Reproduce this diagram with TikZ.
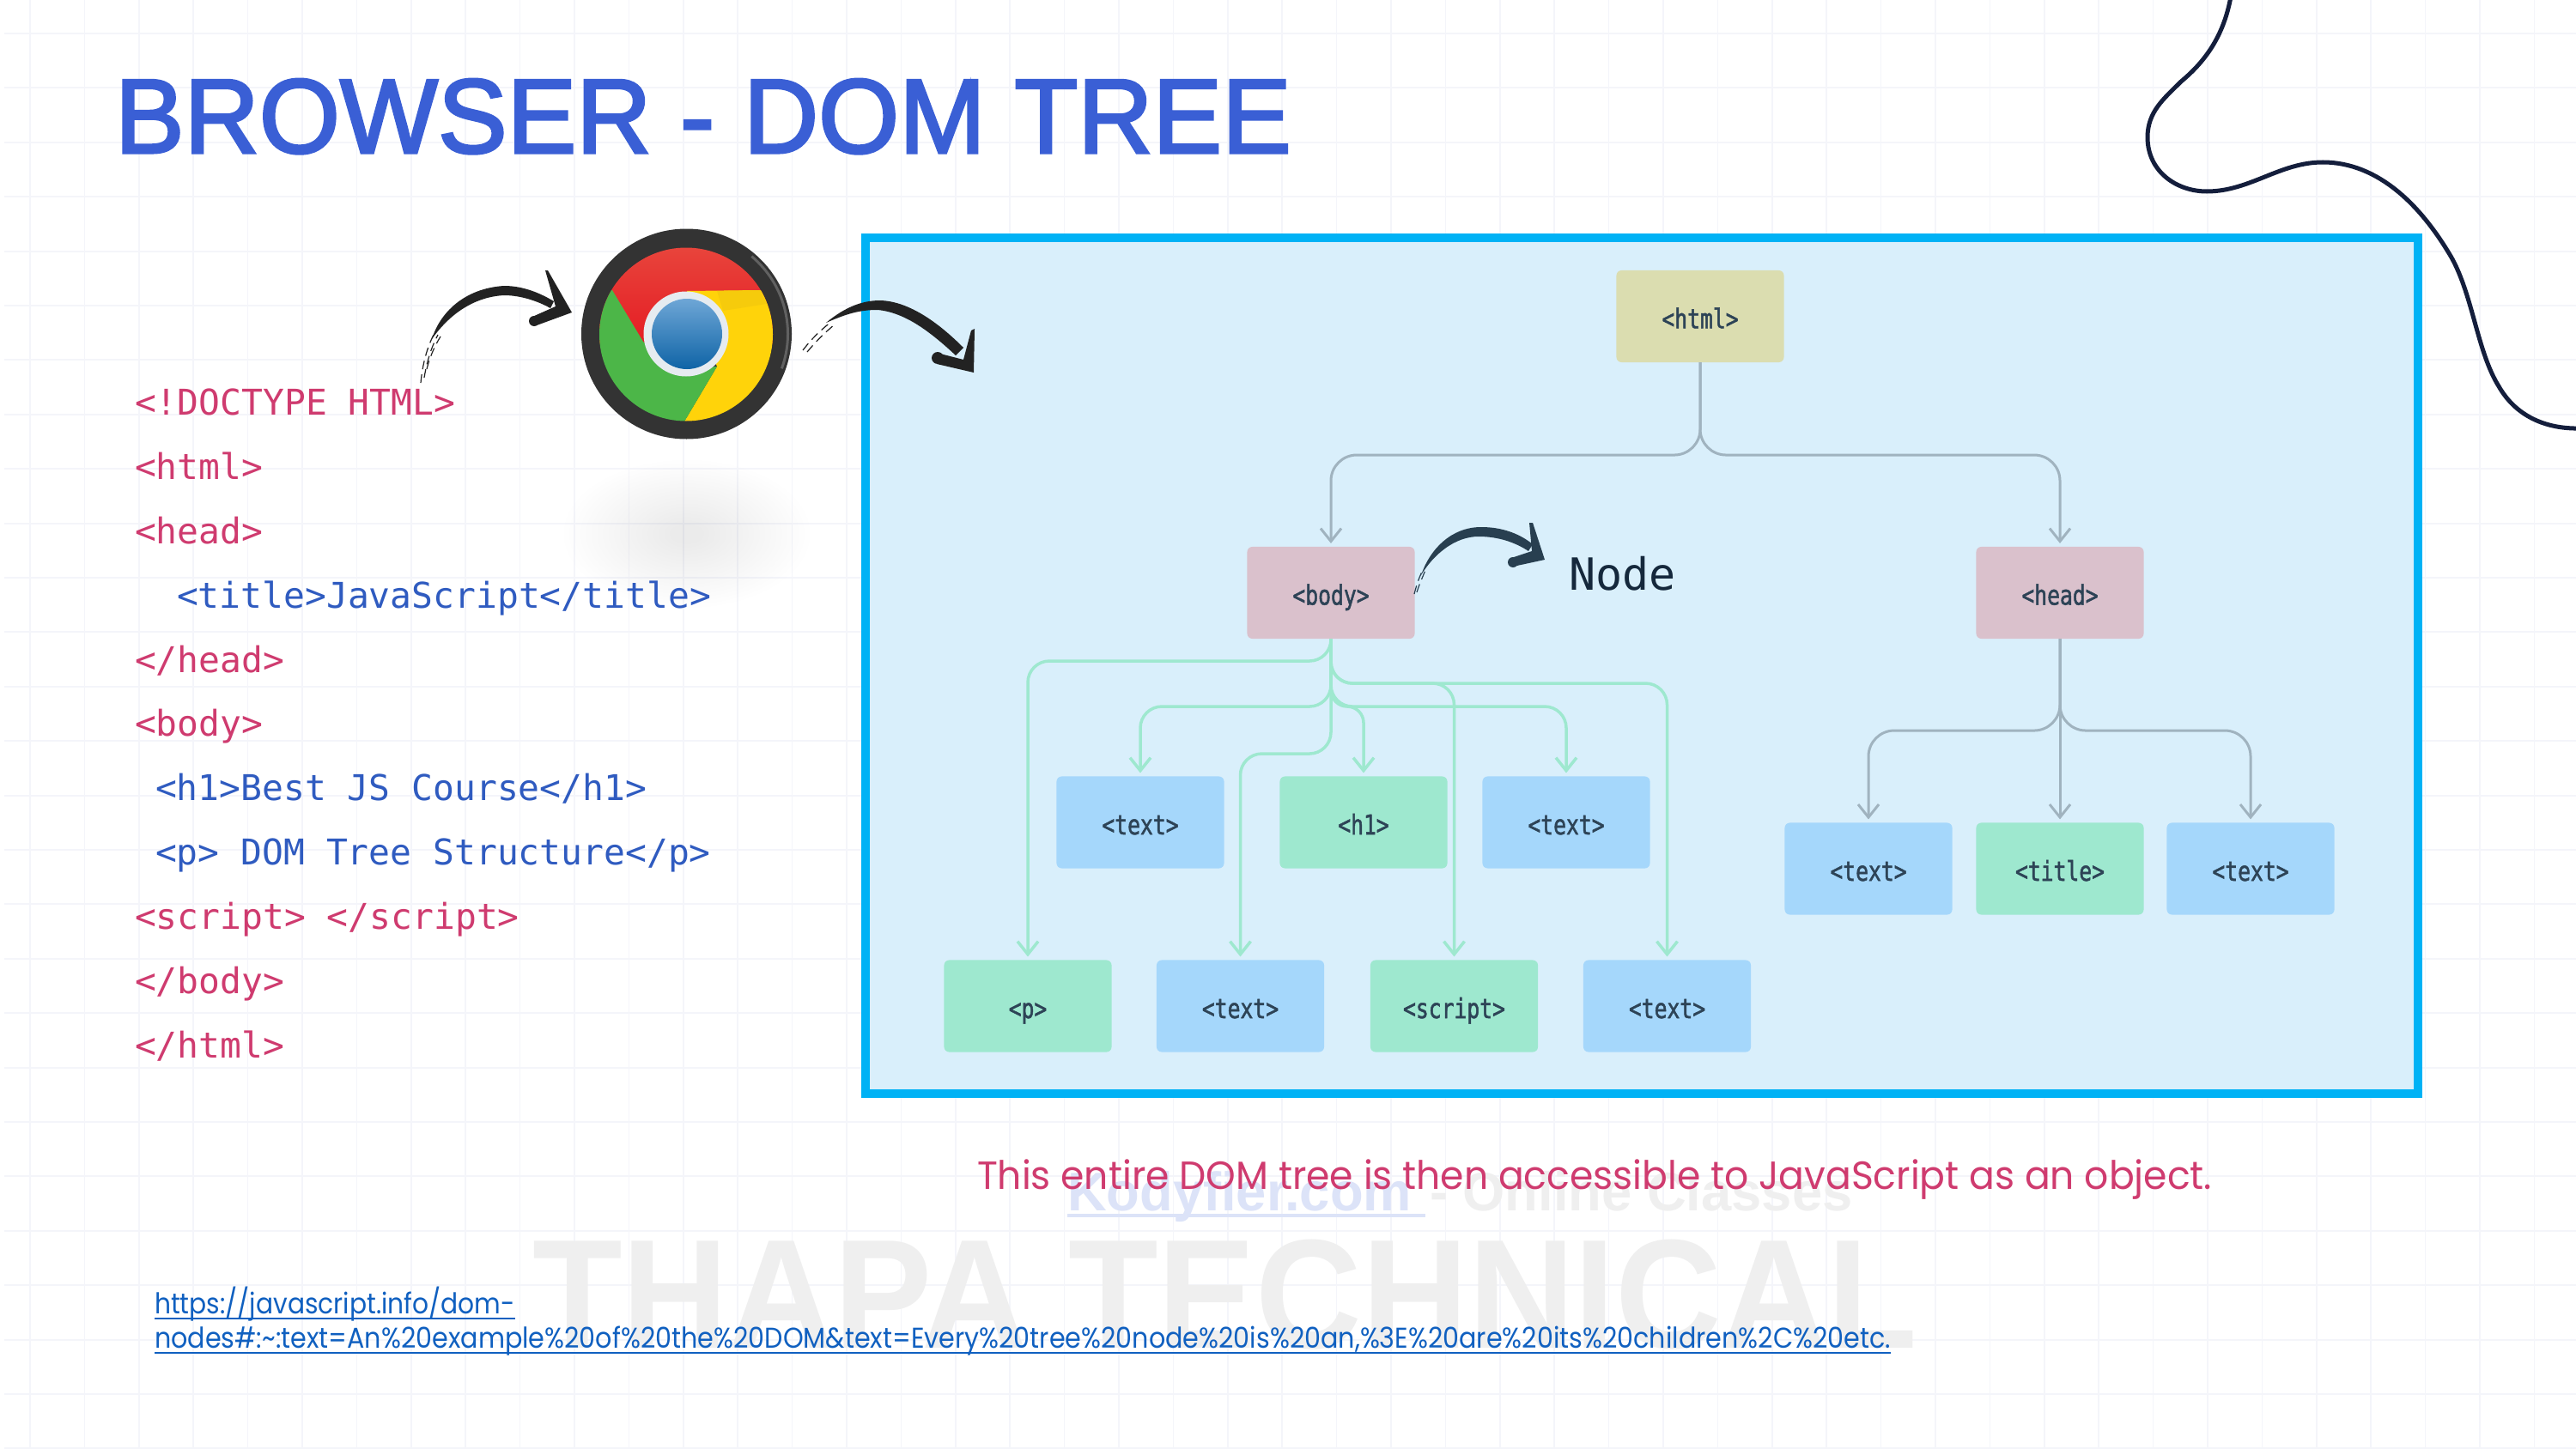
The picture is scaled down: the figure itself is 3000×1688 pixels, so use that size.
\documentclass[tikz,border=0pt]{standalone}
\usepackage{fontspec}
\usetikzlibrary{arrows.meta}
\setmainfont{Poppins}
\newfontfamily\monof{DejaVu Sans Mono}
\newfontfamily\labf[FakeStretch=0.78,FakeBold=1.5]{DejaVu Sans Mono}
\newfontfamily\libf{Liberation Sans}
\newfontfamily\titlef[FakeBold=2.5]{Liberation Sans}
\definecolor{gridc}{HTML}{F4F5FA}
\definecolor{titlec}{HTML}{3A5FD5}
\definecolor{pinkc}{HTML}{CF3B6F}
\definecolor{codeb}{HTML}{2F5BC0}
\definecolor{panelf}{HTML}{D9EFFB}
\definecolor{paneld}{HTML}{00B2F5}
\definecolor{htmlc}{HTML}{DBDDB0}
\definecolor{rosec}{HTML}{DAC1CC}
\definecolor{bluec}{HTML}{A5D7FB}
\definecolor{greenc}{HTML}{9EE8CF}
\definecolor{labc}{HTML}{2D4356}
\definecolor{grayl}{HTML}{A0B3BF}
\definecolor{inkc}{HTML}{222222}
\definecolor{ink2}{HTML}{283F50}
\definecolor{curvec}{HTML}{141E3C}
\definecolor{nodec}{HTML}{15283C}
\definecolor{linkc}{HTML}{1060C0}
\definecolor{wmg}{HTML}{EFEFEF}
\definecolor{wmb}{HTML}{DCE3F8}
\definecolor{HTMLy}{HTML}{FFD30A}
\definecolor{HTMLyd}{HTML}{F6CB0C}
\definecolor{HTMLg}{HTML}{4CB648}
\definecolor{HTMLw}{HTML}{E6EBF0}
\definecolor{HTMLbt}{HTML}{6EA6D6}
\definecolor{HTMLbb}{HTML}{0F64A6}
\definecolor{HTMLrt}{HTML}{E8453C}
\definecolor{HTMLrb}{HTML}{E51D24}
\tikzset{
  every node/.style={inner sep=0pt, outer sep=0pt},
  codeline/.style={anchor=base west, font=\monof\fontsize{11.75}{14}\selectfont},
  pk/.style={codeline, text=pinkc},
  bl/.style={codeline, text=codeb},
  nd/.style={rectangle, rounded corners=0.06cm, minimum width=1.95cm, minimum height=1.07cm, text=labc, text height=0.3cm, text depth=0.02cm, font=\labf\fontsize{9}{11}\selectfont},
  graye/.style={draw=grayl, line width=0.03cm, -{Straight Barb[length=0.15cm,width=0.24cm]}, shorten >=0.04cm},
  greene/.style={draw=greenc, line width=0.035cm, -{Straight Barb[length=0.15cm,width=0.24cm]}, shorten >=0.04cm},
  brush/.style={line width=0.012cm, dash pattern=on 0.1cm off 0.06cm},
}
\begin{document}
\begin{tikzpicture}[x=0.01cm,y=-0.01cm]
\useasboundingbox (0,0) rectangle (3000,1688);
\fill[white] (0,0) rectangle (3000,1688);
% grid
\foreach \k in {0,...,47}{
  \pgfmathsetmacro{\gx}{35+63.4*\k}
  \draw[gridc,line width=0.015cm] (\gx,0) -- (\gx,1688);
}
\foreach \k in {0,...,26}{
  \pgfmathsetmacro{\gy}{39+63.4*\k}
  \draw[gridc,line width=0.02cm] (5,\gy) -- (3000,\gy);
}
% soft shadow under the logo
\foreach \i in {1,...,20}{
  \pgfmathsetmacro{\rx}{150-6.5*\i}
  \pgfmathsetmacro{\ry}{90-3.9*\i}
  \fill[black,opacity=0.004] (800,622) ellipse [x radius=\rx, y radius=\ry];
}
% watermarks
\node[anchor=base west,text=wmg,font=\libf\bfseries\fontsize{51.5}{60}\selectfont] (wm1) at (620,1570) {\scalebox{0.945}[1]{THAPA TECHNICAL}};
\node[anchor=base west,text=wmb,font=\libf\bfseries\fontsize{18}{22}\selectfont] (wm2) at (1243,1410) {Kodyfier.com};
\node[anchor=base west,text=wmg,font=\libf\bfseries\fontsize{18}{22}\selectfont] (wm3) at (1665,1410) {- Online Classes};
\draw[wmb,line width=0.04cm] (1243,1416) -- (1660,1416);
% title
\node[anchor=base west,text=titlec,font=\titlef\fontsize{35}{40}\selectfont] (title) at (134,178) {\scalebox{0.982}[1]{BROWSER - DOM TREE}};
% code
\node[pk] (c1) at (157,483) {<!DOCTYPE HTML>};
\node[pk] (c2) at (157,558) {<html>};
\node[pk] (c3) at (157,633) {<head>};
\node[bl] (c4) at (206,708) {<title>JavaScript</title>};
\node[pk] (c5) at (157,783) {</head>};
\node[pk] (c6) at (157,857) {<body>};
\node[bl] (c7) at (181,932) {<h1>Best JS Course</h1>};
\node[bl] (c8) at (181,1007) {<p> DOM Tree Structure</p>};
\node[pk] (c9) at (157,1082) {<script> </script>};
\node[pk] (c10) at (157,1157) {</body>};
\node[pk] (c11) at (157,1232) {</html>};
% panel
\draw[fill=panelf,draw=paneld,line width=0.1cm] (1008,277) rectangle (2816,1274);
% tree nodes
\node[nd,fill=htmlc] (html) at (1980,368.5) {<html>};
\node[nd,fill=rosec] (body) at (1550,690.5) {<body>};
\node[nd,fill=rosec] (head) at (2399,690.5) {<head>};
\node[nd,fill=bluec] (t1) at (1328,958) {<text>};
\node[nd,fill=greenc] (h1) at (1588,958) {<h1>};
\node[nd,fill=bluec] (t2) at (1824,958) {<text>};
\node[nd,fill=greenc] (p) at (1197,1172) {<p>};
\node[nd,fill=bluec] (t3) at (1444.5,1172) {<text>};
\node[nd,fill=greenc] (script) at (1693.5,1172) {<script>};
\node[nd,fill=bluec] (t4) at (1941.5,1172) {<text>};
\node[nd,fill=bluec] (t5) at (2176,1012) {<text>};
\node[nd,fill=greenc] (ttl) at (2399,1012) {<title>};
\node[nd,fill=bluec] (t6) at (2621,1012) {<text>};
% gray connectors
\draw[graye,rounded corners=0.3cm] (html.south) -- ++(0,108) -| (body.north);
\draw[graye,rounded corners=0.3cm] (html.south) -- ++(0,108) -| (head.north);
\draw[graye,rounded corners=0.3cm] (head.south) -- ++(0,107) -| (t5.north);
\draw[graye,rounded corners=0.3cm] (head.south) -- ++(0,107) -| (t6.north);
\draw[graye] (head.south) -- (ttl.north);
% green connectors
\draw[greene,rounded corners=0.25cm] (body.south) -- ++(0,26) -| (p.north);
\draw[greene,rounded corners=0.25cm] (body.south) -- ++(0,79) -| (t1.north);
\draw[greene,rounded corners=0.19cm] (body.south) -- ++(0,79) -| (h1.north);
\draw[greene,rounded corners=0.25cm] (body.south) -- ++(0,79) -| (t2.north);
\draw[greene,rounded corners=0.25cm] (body.south) -- ++(0,134) -| (t3.north);
\draw[greene,rounded corners=0.25cm] (body.south) -- ++(0,52) -| (script.north);
\draw[greene,rounded corners=0.25cm] (body.south) -- ++(0,52) -| (t4.north);
% Node label and its arrow
\node[anchor=base west,text=nodec,font=\monof\fontsize{14.7}{18}\selectfont] (nodelbl) at (1827,687) {Node};
\fill[ink2] (1655,670) .. controls (1665,640) and (1690,614) .. (1725,614) .. controls (1750,614) and (1770,622) .. (1785,634)
  -- (1780,642) .. controls (1765,632) and (1745,625) .. (1722,625) .. controls (1695,625) and (1670,645) .. (1655,670) -- cycle;
\draw[ink2,brush] (1647,692) .. controls (1650,680) and (1653,672) .. (1657,664);
\draw[ink2,brush] (1650,690) .. controls (1653,680) and (1657,672) .. (1660,664);
\fill[ink2] (1781,609) -- (1785,609) -- (1799,652) -- (1762,660) -- (1760,650) -- (1784,642) -- cycle;
\fill[ink2] (1762,655) circle [radius=6];
% chrome logo
\fill[black!80] (799.5,389) circle [radius=122.5];
\draw[black!62,line width=0.03cm] (799.5,389) ++(20:118) arc[start angle=20,end angle=-50,radius=118];
\begin{scope}
  \clip (799,389.5) circle [radius=101];
  \shade[top color=HTMLrt,bottom color=HTMLrb] (690,285) rectangle (910,400);
  \fill[HTMLy] (886,338) -- (800,339) -- (835,427) -- (797,491) -- (797,520) -- (920,520) -- (920,338) -- cycle;
  \fill[HTMLyd] (835,339) -- (886,338) -- (893,354) -- (842,362) -- cycle;
  \fill[HTMLg] (713,338) -- (749,398) -- (790,430) -- (835,427) -- (797,491) -- (797,520) -- (680,520) -- (680,338) -- cycle;
\end{scope}
\fill[HTMLw] (799,389) circle [radius=49.5];
\shade[top color=HTMLbt,bottom color=HTMLbb] (800,389) circle [radius=41];
% first brush arrow
\fill[inkc] (503,395) .. controls (512,365) and (540,336) .. (587,333) .. controls (610,333) and (630,342) .. (645,351)
  -- (641,359) .. controls (625,350) and (605,344) .. (587,344) .. controls (550,346) and (522,368) .. (503,395) -- cycle;
\draw[inkc,brush] (490,446) .. controls (492,425) and (497,405) .. (506,388);
\draw[inkc,brush] (494,440) .. controls (497,422) and (502,405) .. (510,390);
\draw[inkc,brush] (497,430) .. controls (500,418) and (505,405) .. (513,392);
\fill[inkc] (635,315) -- (638,315) -- (666,364) -- (625,379) -- (620,369) -- (647,357) -- cycle;
\fill[inkc] (622,374) circle [radius=6];
% second brush arrow
\fill[inkc] (962,376) .. controls (985,357) and (1005,350) .. (1025,350) .. controls (1060,351) and (1095,378) .. (1122,405)
  -- (1113,414) .. controls (1085,388) and (1055,364) .. (1022,361) .. controls (1000,361) and (985,366) .. (962,376) -- cycle;
\draw[inkc,brush] (935,408) .. controls (945,395) and (955,385) .. (968,375);
\draw[inkc,brush] (940,410) .. controls (950,398) and (960,388) .. (972,378);
\fill[inkc] (1131,385) -- (1135,383) -- (1134,434) -- (1091,424) -- (1091,411) -- (1122,419) -- cycle;
\fill[inkc] (1092,417) circle [radius=7];
% corner squiggle
\draw[curvec,line width=0.05cm,line cap=round] (2598,-4) .. controls (2590,40) and (2570,70) .. (2540,95) .. controls (2520,115) and (2501,130) .. (2501,160) .. controls (2501,200) and (2535,223) .. (2570,223) .. controls (2620,223) and (2655,189) .. (2705,189) .. controls (2770,189) and (2820,240) .. (2855,300) .. controls (2880,345) and (2885,410) .. (2910,450) .. controls (2930,485) and (2965,500) .. (3005,499);
% caption
\node[anchor=base west,text=pinkc,font=\fontsize{13}{16}\selectfont] (cap) at (1138,1385) {\scalebox{0.964}[1]{This entire DOM tree is then accessible to JavaScript as an object.}};
% link
\node[anchor=base west,text=linkc,font=\fontsize{9.5}{12}\selectfont] (l1) at (180,1530) {\scalebox{0.89}[1]{https://javascript.info/dom-}};
\node[anchor=base west,text=linkc,font=\fontsize{9.5}{12}\selectfont] (l2) at (180,1570) {\scalebox{0.904}[1]{nodes\#:\textasciitilde:text=An\%20example\%20of\%20the\%20DOM\&text=Every\%20tree\%20node\%20is\%20an,\%3E\%20are\%20its\%20children\%2C\%20etc.}};
\draw[linkc,line width=0.025cm] ([yshift=-0.06cm]l1.base west) -- ([yshift=-0.06cm]l1.base east);
\draw[linkc,line width=0.025cm] ([yshift=-0.06cm]l2.base west) -- ([yshift=-0.06cm]l2.base east);
\end{tikzpicture}
\end{document}
